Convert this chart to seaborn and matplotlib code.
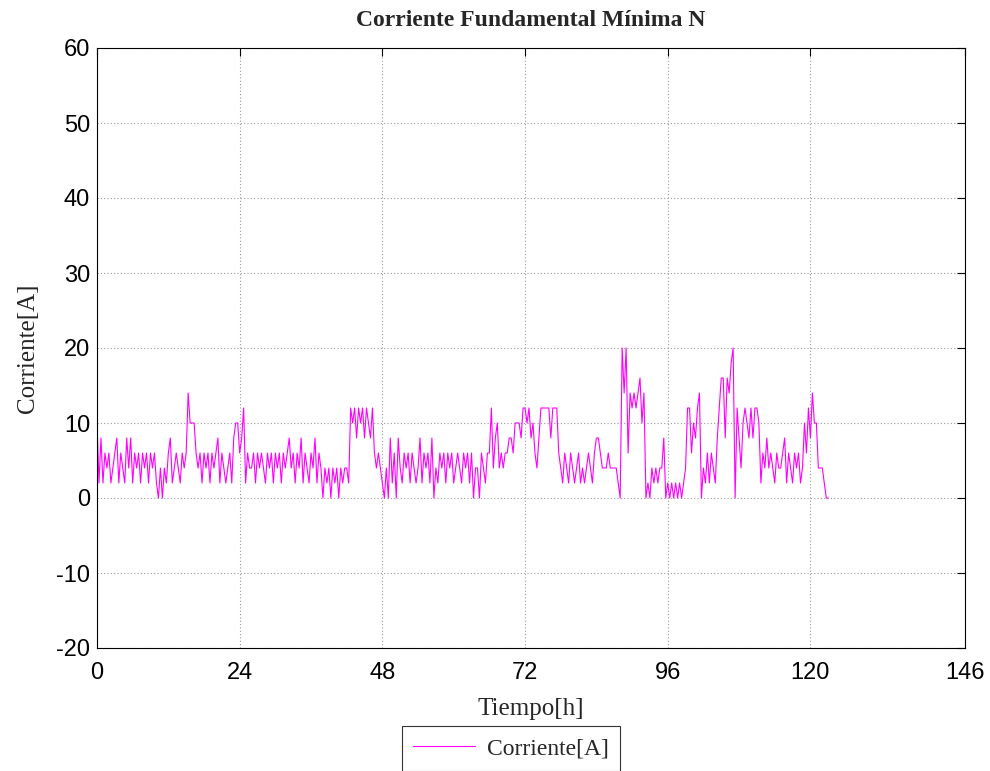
import numpy as np
import pandas as pd
import matplotlib
matplotlib.use("Agg")
import matplotlib.pyplot as plt
import seaborn as sns

# Minimum fundamental current on the neutral, one reading every 20 minutes
corriente = [
    10, 2, 8,   2, 6, 4,   6, 2, 4,   6, 8, 2,   6, 4, 2,   8, 4, 8,
    2, 6, 4,    6, 2, 6,   4, 6, 2,   6, 4, 6,   2, 0, 4,   0, 4, 2,
    6, 8, 2,    4, 6, 4,   2, 6, 4,   6, 14, 10, 10, 10, 6, 4, 6, 2,
    6, 4, 6,    2, 6, 4,   6, 8, 2,   6, 4, 2,   4, 6, 2,   8, 10, 10,
    6, 8, 12,   2, 6, 4,   4, 6, 2,   6, 4, 6,   4, 2, 6,   4, 6, 2,
    6, 4, 6,    2, 6, 4,   6, 8, 4,   6, 2, 6,   4, 8, 2,   6, 4, 2,
    6, 4, 8,    2, 6, 4,   0, 4, 2,   4, 0, 4,   2, 4, 0,   4, 2, 4,
    4, 2, 12,   10, 12, 8, 12, 10, 12, 8, 12, 10, 8, 12, 6,  4, 6, 4,
    2, 0, 4,    0, 8, 2,   6, 0, 8,   4, 2, 6,   4, 6, 2,   6, 4, 2,
    4, 8, 2,    6, 4, 6,   2, 8, 0,   4, 2, 6,   4, 6, 2,   6, 4, 6,
    2, 4, 6,    4, 2, 6,   4, 6, 2,   6, 0, 4,   4, 0, 6,   4, 2, 6,
    6, 12, 4,   8, 10, 4,  6, 4, 6,   6, 8, 8,   6, 10, 10, 10, 8, 12,
    12, 10, 12, 8, 10, 6,  4, 8, 12,  12, 12, 12, 12, 8, 12, 12, 12, 6,
    4, 2, 6,    4, 2, 6,   4, 2, 4,   6, 2, 4,   2, 4, 6,   4, 2, 6,
    8, 8, 6,    4, 4, 4,   6, 4, 4,   4, 4, 2,   0, 20, 14, 20, 6, 14,
    12, 14, 12, 14, 16, 10, 14, 0, 2, 0, 4, 2,   4, 2, 4,   4, 8, 0,
    2, 0, 2,    0, 2, 0,   2, 0, 2,   4, 12, 12, 6, 10, 8,  12, 14, 0,
    4, 2, 6,    2, 6, 4,   2, 8, 12,  16, 16, 8, 16, 14, 18, 20, 0, 12,
    8, 4, 10,   12, 10, 8, 12, 8, 12, 12, 10, 2, 6, 4, 8,   4, 6, 4,
    2, 6, 4,    4, 6, 8,   2, 6, 4,   2, 6, 4,   6, 2, 4,   10, 6, 12,
    8, 14, 10,  10, 4, 4,  4, 2, 0,   0,
]
horas = np.arange(len(corriente)) / 3.0

x_ticks = [0, 24, 48, 72, 96, 120, 146]
y_ticks = [-20, -10, 0, 10, 20, 30, 40, 50, 60]

titulo = "Corriente Fundamental Mínima N"
etiqueta_x = "Tiempo[h]"
etiqueta_y = "Corriente[A]"
serie = "Corriente[A]"

df = pd.DataFrame({"Tiempo": horas, "Corriente": corriente})

sns.set_theme(style="white")
plt.rcParams["font.family"] = ["Liberation Sans", "DejaVu Sans"]
plt.rcParams["axes.unicode_minus"] = False

fig = plt.figure(figsize=(9.9, 7.71), dpi=100)
ax = fig.add_axes([97 / 990, 1 - 648 / 771, (965 - 97) / 990, (648 - 48) / 771])

sns.lineplot(data=df, x="Tiempo", y="Corriente", ax=ax, color="#FF00FF",
             linewidth=0.8, label=serie, legend=False)

ax.set_xlim(0, 146)
ax.set_ylim(-20, 60)
ax.set_xticks(x_ticks)
ax.set_yticks(y_ticks)
ax.tick_params(direction="in", length=6, width=0.8, top=True, right=True,
               labelsize=17, colors="black", pad=5)
ax.tick_params(axis="x", pad=10)
for lbl in ax.get_xticklabels() + ax.get_yticklabels():
    lbl.set_fontfamily("Liberation Sans")

ax.grid(True, linestyle=(0, (1, 2)), color="#9a9a9a", linewidth=0.8)
for s in ax.spines.values():
    s.set_visible(True)
    s.set_color("black")
    s.set_linewidth(0.8)

serif = ["Liberation Serif", "DejaVu Serif"]
ax.set_title(titulo, family=serif, fontsize=17, fontweight="bold", pad=16)
ax.set_xlabel(etiqueta_x, family=serif, fontsize=18, labelpad=10)
ax.set_ylabel(etiqueta_y, family=serif, fontsize=18, labelpad=12)

leg = fig.legend(loc="upper center", bbox_to_anchor=(511 / 990, 1 - 726 / 771),
                 frameon=True, fancybox=False, edgecolor="black",
                 prop={"family": serif, "size": 17}, handlelength=2.6,
                 handletextpad=0.5, borderpad=0.5, borderaxespad=0)
leg.get_frame().set_linewidth(0.8)

fig.savefig("out.png", dpi=100)
